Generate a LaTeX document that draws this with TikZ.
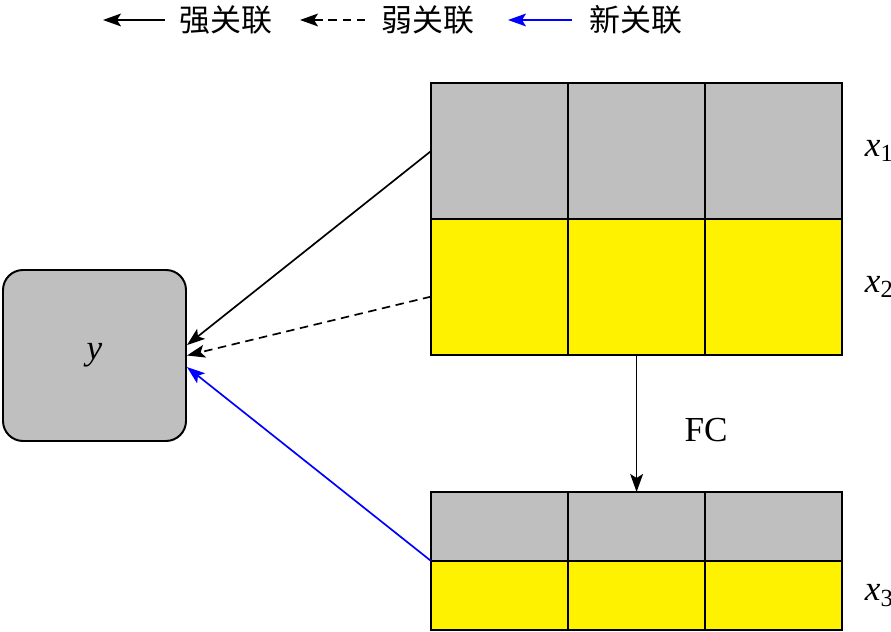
\documentclass[tikz,border=0pt]{standalone}
\usepackage{fontspec}
\setmainfont{Liberation Serif}
\newfontfamily\cjk{Noto Sans CJK SC}
\usepackage{tikz}
\usetikzlibrary{arrows.meta, positioning}

\begin{document}
\begin{tikzpicture}[>={Stealth[length=0.45cm, width=0.32cm, inset=0.1cm]}, line width=1.2pt, font=\fontsize{25}{30}\selectfont]

\useasboundingbox (0,0) rectangle (22.275,15.8);

\tikzstyle{graycell} =
[rectangle,
minimum width=3.425cm,
minimum height=3.4cm,
outer sep=0pt,
draw=black,
line width=1.4pt,
fill=black!25]

\tikzstyle{yellowcell} =
[graycell,
fill=yellow]

\tikzstyle{thincell} =
[minimum height=1.725cm]

\tikzstyle{target} =
[rectangle,
rounded corners=0.5cm,
minimum width=4.575cm,
minimum height=4.275cm,
draw=black,
line width=1.4pt,
fill=black!25]

\tikzstyle{legend} =
[font=\cjk\fontsize{22}{26}\selectfont]

\tikzstyle{weakline} =
[dash pattern=on 6pt off 4pt]

\tikzstyle{rowlabel} =
[inner sep=0pt]

% legend
\node (strong) [legend] at (5.65,15.3) {强关联};
\node (weak) [legend] at (10.7,15.3) {弱关联};
\node (new) [legend] at (15.9,15.3) {新关联};
\coordinate (s0) at (4.125,15.3);
\coordinate (s1) at (2.575,15.3);
\coordinate (w0) at (9.125,15.3);
\coordinate (w1) at (7.5,15.3);
\coordinate (n0) at (14.3,15.3);
\coordinate (n1) at (12.7,15.3);
\draw[->] (s0) -- (s1);
\draw[->, weakline] (w0) -- (w1);
\draw[->, blue] (n0) -- (n1);

% target
\node (y) [target] at (2.3625,6.9125) {\textit{y}};

% upper block
\node (a1) [graycell] at (12.49,12.025) {};
\node (a2) [graycell, right=0pt of a1] {};
\node (a3) [graycell, right=0pt of a2] {};
\node (b1) [yellowcell, below=0pt of a1] {};
\node (b2) [yellowcell, below=0pt of a2] {};
\node (b3) [yellowcell, below=0pt of a3] {};

% lower block
\node (c1) [graycell, thincell] at (12.49,2.6375) {};
\node (c2) [graycell, thincell, right=0pt of c1] {};
\node (c3) [graycell, thincell, right=0pt of c2] {};
\node (d1) [yellowcell, thincell, below=0pt of c1] {};
\node (d2) [yellowcell, thincell, below=0pt of c2] {};
\node (d3) [yellowcell, thincell, below=0pt of c3] {};

\node (x1) [rowlabel, right=0.55cm of a3] {\textit{x}\textsubscript{1}};
\node (x2) [rowlabel, right=0.55cm of b3] {\textit{x}\textsubscript{2}};
\node (x3) [rowlabel, right=0.55cm of d3] {\textit{x}\textsubscript{3}};

\node (fc) at (17.65,5.05) {FC};

\draw[->] (b2.south) -- (c2.north);
\draw[->] (a1.west) -- ([yshift=0.26cm]y.east);
\draw[->, weakline] ([yshift=-0.24cm]b1.west) -- (y.east);
\draw[->, blue] (c1.south west) -- ([yshift=-0.29cm]y.east);

\end{tikzpicture}
\end{document}
